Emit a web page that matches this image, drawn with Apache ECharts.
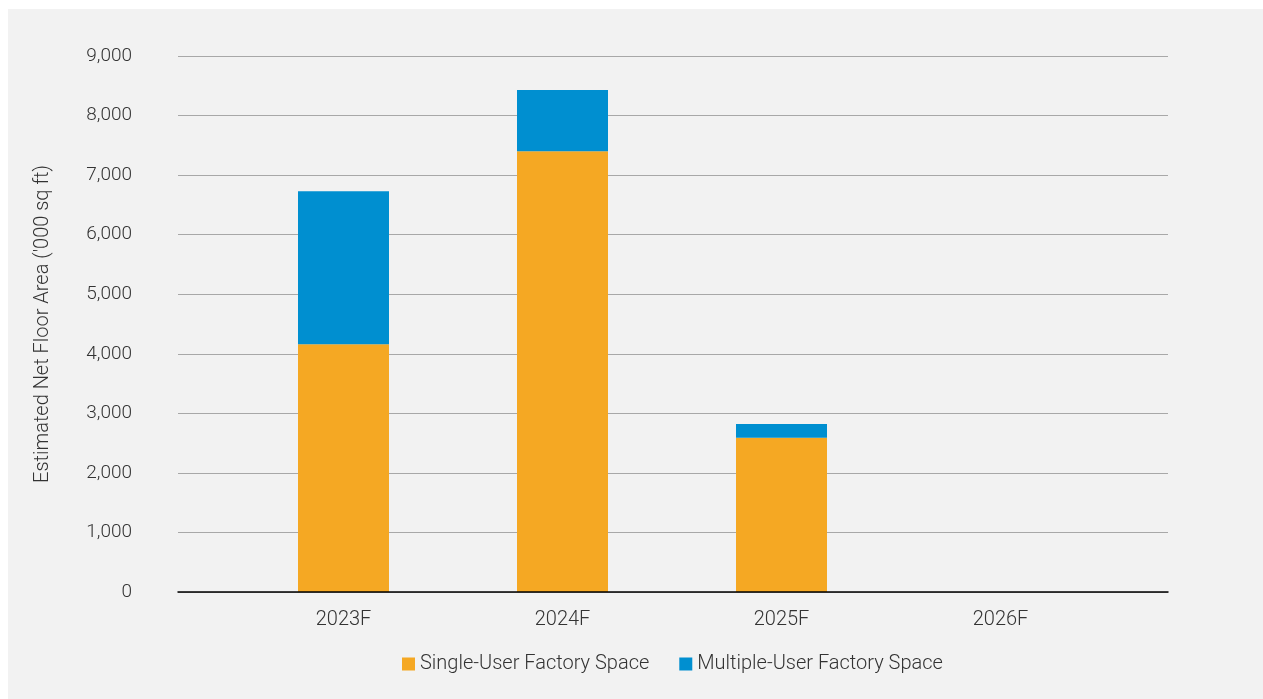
<!DOCTYPE html>
<html>
<head>
<meta charset="utf-8">
<script src="https://cdn.jsdelivr.net/npm/echarts@6/dist/echarts.min.js"></script>
<style>
  html, body { margin: 0; padding: 0; background: #ffffff; }
  #chart { position: absolute; left: 8px; top: 9px; width: 1255px; height: 690px; background: #f2f2f2; }
</style>
</head>
<body>
<div id="chart"></div>
<script>
// Forecast net floor area of new factory space ('000 sq ft)
const categories = ['2023F', '2024F', '2025F', '2026F'];
const singleUser = [4160, 7400, 2590, 0];
const multipleUser = [2570, 1030, 230, 0];
const seriesNames = ['Single-User Factory Space', 'Multiple-User Factory Space'];
const yTicks = { min: 0, max: 9000, interval: 1000 };
const yAxisTitle = "Estimated Net Floor Area ('000 sq ft)";

const FONT = 'Roboto, "Noto Sans", sans-serif';
const TEXT = '#333333';
const WEIGHT = 300;
const chart = echarts.init(document.getElementById('chart'), null, { renderer: 'canvas' });

chart.setOption({
  backgroundColor: '#f2f2f2',
  animation: false,
  textStyle: { fontFamily: FONT },
  legend: {
    data: seriesNames,
    left: 389,
    top: 640,
    itemWidth: 13,
    itemHeight: 13,
    itemGap: 30,
    icon: 'rect',
    textStyle: { fontFamily: FONT, fontSize: 20, fontWeight: WEIGHT, color: TEXT, padding: [0, 0, 0, 0] }
  },
  grid: [
    // frame with gridlines, value labels and baseline
    { left: 170, right: 95, top: 47, bottom: 107 },
    // bars
    { left: 226, right: 153, top: 47, bottom: 107 }
  ],
  xAxis: [
    {
      type: 'category', gridIndex: 0, data: [''],
      axisLine: { show: true, lineStyle: { color: '#000000', width: 1.5 } },
      axisTick: { show: false }, axisLabel: { show: false }, splitLine: { show: false },
      z: 5
    },
    {
      type: 'category', gridIndex: 1, data: categories,
      axisLine: { show: false }, axisTick: { show: false },
      axisLabel: { fontFamily: FONT, fontSize: 20, fontWeight: WEIGHT, color: TEXT, margin: 18 }
    }
  ],
  yAxis: [
    {
      type: 'value', gridIndex: 0,
      min: yTicks.min, max: yTicks.max, interval: yTicks.interval,
      name: yAxisTitle, nameLocation: 'middle', nameGap: 125, nameRotate: 90,
      nameTextStyle: { fontFamily: FONT, fontSize: 20, fontWeight: WEIGHT, color: TEXT },
      axisLine: { show: false }, axisTick: { show: false },
      axisLabel: {
        fontFamily: FONT, fontSize: 19, fontWeight: WEIGHT, color: TEXT, margin: 46,
        formatter: v => v.toLocaleString('en-US')
      },
      splitLine: { lineStyle: { color: '#a8a8a8', width: 1.2 } }
    },
    {
      type: 'value', gridIndex: 1,
      min: yTicks.min, max: yTicks.max, interval: yTicks.interval,
      show: false, splitLine: { show: false }
    }
  ],
  series: [
    {
      name: seriesNames[0], type: 'bar', stack: 'total',
      xAxisIndex: 1, yAxisIndex: 1,
      barWidth: 91, data: singleUser,
      itemStyle: { color: '#f5a823' }
    },
    {
      name: seriesNames[1], type: 'bar', stack: 'total',
      xAxisIndex: 1, yAxisIndex: 1,
      barWidth: 91, data: multipleUser,
      itemStyle: { color: '#008fd0' }
    }
  ]
});
</script>
</body>
</html>
